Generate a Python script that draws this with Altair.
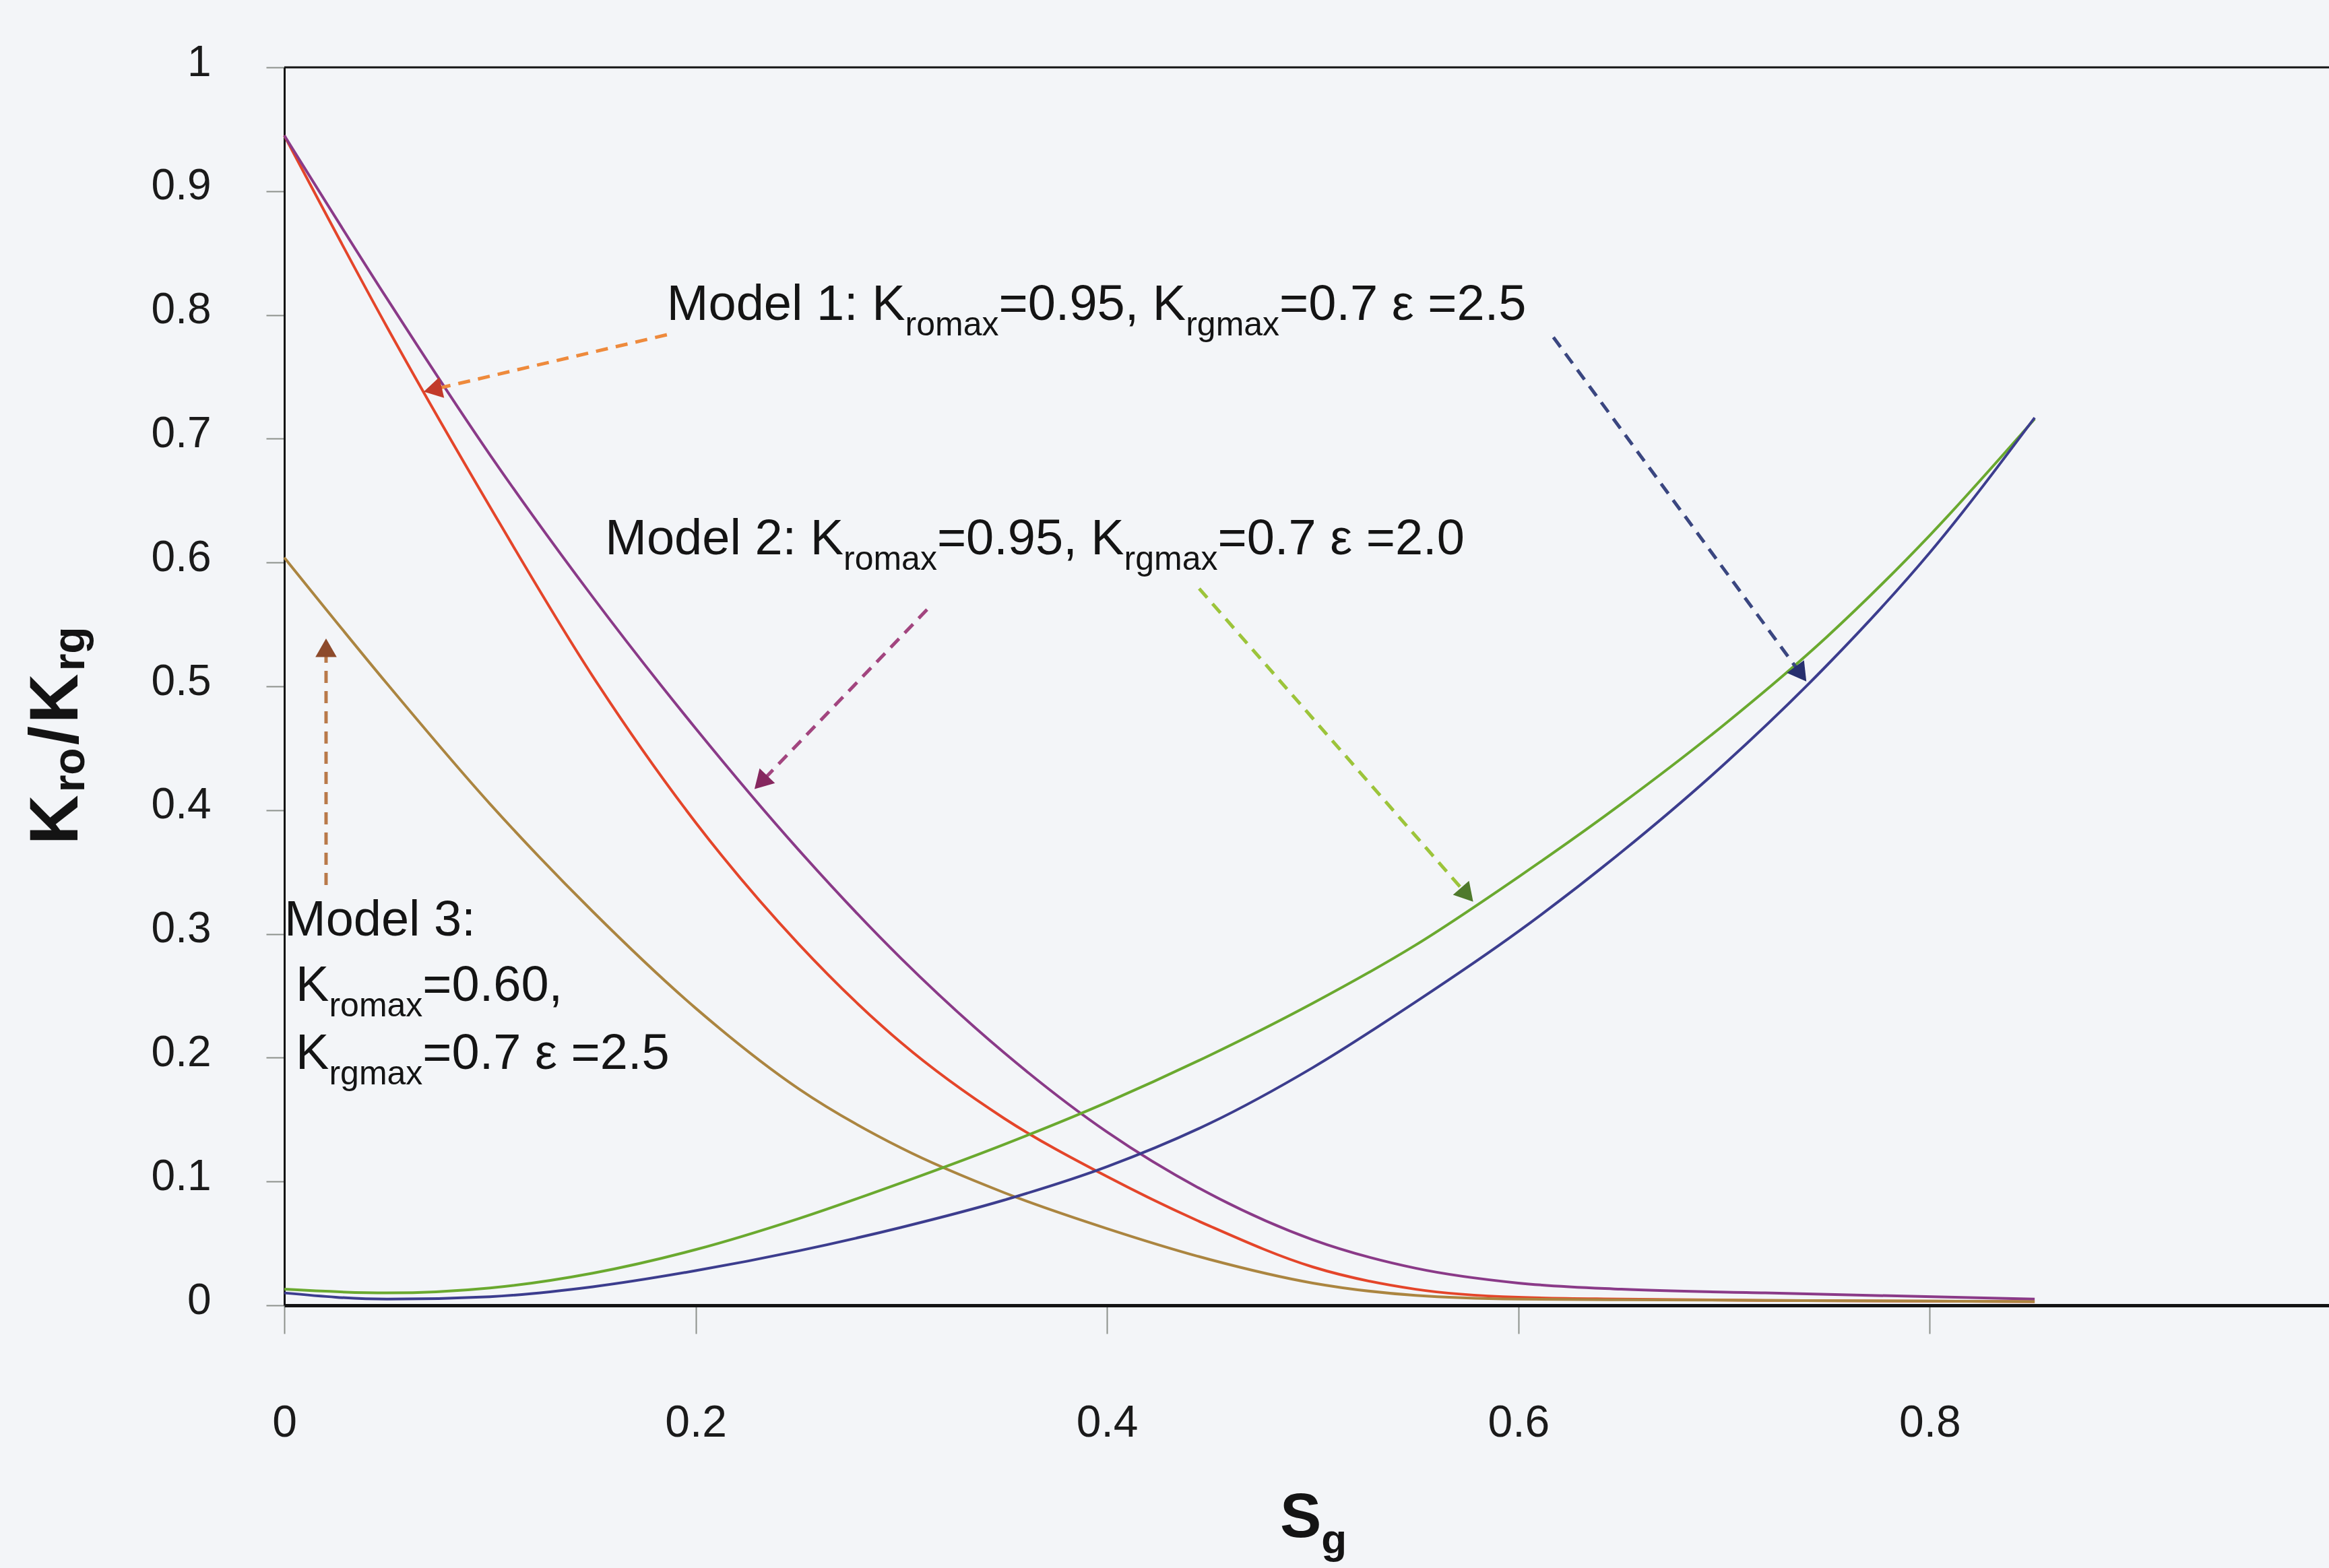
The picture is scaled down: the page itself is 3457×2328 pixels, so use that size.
import math
import altair as alt
import pandas as pd

# ---------------------------------------------------------------------------
# Relative permeability vs gas saturation (S_g) for three model settings
# ---------------------------------------------------------------------------
sg_grid = [0.0, 0.05, 0.10, 0.15, 0.20, 0.25, 0.30, 0.35, 0.40, 0.45, 0.50, 0.55, 0.60, 0.65, 0.72, 0.851]

# Oil relative permeability K_ro
m1_oil_kr = [0.945, 0.790, 0.645, 0.508, 0.390, 0.292, 0.212, 0.151, 0.104, 0.064, 0.031, 0.013, 0.0065,
             0.0050, 0.0040, 0.0030]
m2_oil_kr = [0.945, 0.813, 0.687, 0.572, 0.466, 0.368, 0.280, 0.204, 0.140, 0.090, 0.053, 0.030, 0.018,
             0.013, 0.010, 0.005]
m3_oil_kr = [0.604, 0.502, 0.405, 0.318, 0.240, 0.175, 0.127, 0.091, 0.062, 0.037, 0.018, 0.008, 0.005,
             0.0045, 0.0040, 0.0030]

# Gas relative permeability K_rg
gas_sg = [0.0, 0.05, 0.10, 0.15, 0.20, 0.25, 0.30, 0.35, 0.40, 0.45, 0.50, 0.55, 0.60, 0.65, 0.70, 0.75, 0.80, 0.851]
m2_gas_kr = [0.013, 0.010, 0.014, 0.026, 0.045, 0.070, 0.099, 0.130, 0.164, 0.202, 0.244, 0.291, 0.346, 0.405,
             0.469, 0.540, 0.622, 0.716]
m1_gas_kr = [0.010, 0.005, 0.007, 0.015, 0.028, 0.044, 0.063, 0.085, 0.112, 0.147, 0.192, 0.245, 0.302, 0.366,
             0.437, 0.517, 0.608, 0.717]

series_names = ["m1_oil", "m2_oil", "m3_oil", "m2_gas", "m1_gas"]
series_colors = ["#e4452a", "#8a3a88", "#ab8540", "#6aa92f", "#3c3d8e"]
series_sg = [sg_grid, sg_grid, sg_grid, gas_sg, gas_sg]
series_kr = [m1_oil_kr, m2_oil_kr, m3_oil_kr, m2_gas_kr, m1_gas_kr]

x_ticks = [0, 0.2, 0.4, 0.6, 0.8]
y_ticks = [round(0.1 * i, 1) for i in range(11)]

# Dashed callout arrows: (start S_g, start K, tip S_g, tip K, dash colour, head colour)
arrows = [
    (0.186, 0.784, 0.0678, 0.738, "#ee8a3c", "#c23a2a"),
    (0.617, 0.782, 0.740, 0.504, "#3a4680", "#262f6e"),
    (0.3125, 0.562, 0.2286, 0.417, "#a2457f", "#86275f"),
    (0.4448, 0.579, 0.578, 0.326, "#9cc43a", "#4f7a2c"),
    (0.0203, 0.3395, 0.0203, 0.5386, "#b9794a", "#8d4a2b"),
]

# Callout labels: list of (text, subscript?) runs with left start / baseline in data units
callouts = [
    ([("Model 1: K", False), ("romax", True), ("=0.95, K", False), ("rgmax", True), ("=0.7 \u03b5 =2.5", False)],
     0.186, 0.796),
    ([("Model 2: K", False), ("romax", True), ("=0.95, K", False), ("rgmax", True), ("=0.7 \u03b5 =2.0", False)],
     0.156, 0.6066),
    ([("Model 3:", False)], 0.0, 0.2987),
    ([("K", False), ("romax", True), ("=0.60,", False)], 0.0056, 0.2459),
    ([("K", False), ("rgmax", True), ("=0.7 \u03b5 =2.5", False)], 0.0056, 0.191),
]

# ---------------------------------------------------------------------------
# Layout
# ---------------------------------------------------------------------------
FONT = "Liberation Sans"
PAD_L, PAD_T, PAD_R, PAD_B = 422, 100, 0, 390
W, H = 3035, 1838
X_MAX = 0.9941
PX_X = W / X_MAX
PX_Y = H / 1.0

MAIN_FS, SUB_FS, SUB_DROP = 74, 50, 23

# Arial advance widths (1/1000 em), regular and bold
AW = {" ": 278, ",": 278, ".": 278, ":": 278, "=": 584, "/": 278, "K": 667, "M": 833, "S": 667,
      "o": 556, "d": 556, "e": 556, "l": 222, "r": 333, "m": 833, "a": 556, "x": 500, "g": 556,
      "\u03b5": 450}
AWB = {"K": 722, "S": 667, "/": 278, "r": 389, "o": 611, "g": 611}


def text_width(s, size, bold=False):
    table = AWB if bold else AW
    return sum(table.get(ch, 556) for ch in s) * size / 1000.0


# ---------------------------------------------------------------------------
# Tables
# ---------------------------------------------------------------------------
curve_rows = []
for name, col, xs_, ys_ in zip(series_names, series_colors, series_sg, series_kr):
    for i, (sx, ky) in enumerate(zip(xs_, ys_)):
        curve_rows.append({"series": name, "color": col, "order": i, "sg": sx, "kr": ky})
curves = pd.DataFrame(curve_rows)

shaft_rows, head_rows = [], []
HEAD_SIZE = 1000
head_h = math.sqrt(3) * (math.sqrt(HEAD_SIZE) / 2) / 2
for i, (x0, y0, x1, y1, c_dash, c_head) in enumerate(arrows):
    dxp = (x1 - x0) * PX_X
    dyp = -(y1 - y0) * PX_Y
    n = math.hypot(dxp, dyp)
    ux, uy = dxp / n, dyp / n
    ang = math.degrees(math.atan2(ux, -uy)) % 360
    cx = x1 - ux * head_h / PX_X
    cy = y1 + uy * head_h / PX_Y
    ex = x1 - ux * 1.6 * head_h / PX_X
    ey = y1 + uy * 1.6 * head_h / PX_Y
    shaft_rows.append({"a": i, "x": x0, "y": y0, "x2": ex, "y2": ey, "color": c_dash})
    head_rows.append({"a": i, "x": cx, "y": cy, "angle": ang, "color": c_head})
shafts = pd.DataFrame(shaft_rows)
heads = pd.DataFrame(head_rows)

label_rows = []
for runs, sx, sy in callouts:
    cur = sx
    for txt, is_sub in runs:
        fs = SUB_FS if is_sub else MAIN_FS
        label_rows.append({"x": cur, "y": sy - (SUB_DROP / PX_Y if is_sub else 0.0), "text": txt, "fs": fs})
        cur += text_width(txt, fs) / PX_X
labels = pd.DataFrame(label_rows)

# Y-axis title  K_ro / K_rg  (rotated, reading upwards)
YT_MAIN, YT_SUB = 102, 66
yt_runs = [("K", False), ("ro", True), ("/", False), ("K", False), ("rg", True)]
yt_rows = []
base_x = (115 - PAD_L) / PX_X
pos = (PAD_T + H - 1254) / PX_Y
for txt, is_sub in yt_runs:
    fs = YT_SUB if is_sub else YT_MAIN
    yt_rows.append({"x": base_x + (10 / PX_X if is_sub else 0.0), "y": pos, "text": txt, "fs": fs})
    pos += (text_width(txt, fs, bold=True) + 4) / PX_Y
ytitle = pd.DataFrame(yt_rows)

# X-axis title  S_g
xt_rows = [
    {"x": (1900 - PAD_L) / PX_X, "y": -(2282 - PAD_T - H) / PX_Y, "text": "S", "fs": 92},
    {"x": (1900 - PAD_L + text_width("S", 92, True)) / PX_X, "y": -(2306 - PAD_T - H) / PX_Y,
     "text": "g", "fs": 62},
]
xtitle = pd.DataFrame(xt_rows)

frame = pd.DataFrame({"x": [0.0], "x2": [X_MAX], "y": [1.0]})
cut_label = pd.DataFrame({"x": [1.0], "y": [-(2112 - PAD_T - H) / PX_Y], "text": ["1"]})

# ---------------------------------------------------------------------------
# Chart
# ---------------------------------------------------------------------------
xs = alt.Scale(domain=[0, X_MAX], nice=False, zero=False)
ys = alt.Scale(domain=[0, 1], nice=False, zero=False)

x_axis = alt.Axis(values=x_ticks, format=".1~f", title=None, grid=False,
                  tickSize=42, tickWidth=2, tickColor="#8c918c",
                  domainColor="#141414", domainWidth=5,
                  labelFont=FONT, labelFontSize=66, labelColor="#1a1a1a",
                  labelPadding=132, labelBaseline="middle", labelFlush=False)
y_axis = alt.Axis(values=y_ticks, format=".1~f", title=None, grid=False,
                  tickSize=27, tickWidth=2, tickColor="#8c918c",
                  domainColor="#141414", domainWidth=3,
                  labelFont=FONT, labelFontSize=64, labelColor="#1a1a1a",
                  labelPadding=82, labelOffset=-7, labelFlush=False)

lines = alt.Chart(curves).mark_line(strokeWidth=4, interpolate="monotone").encode(
    x=alt.X("sg:Q", scale=xs, axis=x_axis),
    y=alt.Y("kr:Q", scale=ys, axis=y_axis),
    color=alt.Color("color:N", scale=None),
    detail="series:N",
    order="order:Q",
)

top_border = alt.Chart(frame).mark_rule(color="#141414", strokeWidth=3).encode(
    x=alt.X("x:Q", scale=xs), x2="x2:Q", y=alt.Y("y:Q", scale=ys)
)

shaft_layer = alt.Chart(shafts).mark_rule(strokeWidth=5, strokeDash=[18, 12]).encode(
    x=alt.X("x:Q", scale=xs), y=alt.Y("y:Q", scale=ys), x2="x2:Q", y2="y2:Q",
    color=alt.Color("color:N", scale=None),
)

head_layer = alt.Chart(heads).mark_point(shape="triangle-up", filled=True, size=HEAD_SIZE, opacity=1).encode(
    x=alt.X("x:Q", scale=xs), y=alt.Y("y:Q", scale=ys),
    angle=alt.Angle("angle:Q", scale=None),
    color=alt.Color("color:N", scale=None),
)

label_layer = alt.Chart(labels).mark_text(
    font=FONT, align="left", baseline="alphabetic", color="#141414"
).encode(
    x=alt.X("x:Q", scale=xs), y=alt.Y("y:Q", scale=ys), text="text:N",
    size=alt.Size("fs:Q", scale=None),
)

ytitle_layer = alt.Chart(ytitle).mark_text(
    font=FONT, fontWeight="bold", align="left", baseline="alphabetic", angle=270, color="#141414"
).encode(
    x=alt.X("x:Q", scale=xs), y=alt.Y("y:Q", scale=ys), text="text:N",
    size=alt.Size("fs:Q", scale=None),
)

xtitle_layer = alt.Chart(xtitle).mark_text(
    font=FONT, fontWeight="bold", align="left", baseline="alphabetic", color="#141414"
).encode(
    x=alt.X("x:Q", scale=xs), y=alt.Y("y:Q", scale=ys), text="text:N",
    size=alt.Size("fs:Q", scale=None),
)

cut_layer = alt.Chart(cut_label).mark_text(
    font=FONT, fontSize=66, align="center", baseline="middle", color="#1a1a1a"
).encode(
    x=alt.X("x:Q", scale=xs), y=alt.Y("y:Q", scale=ys), text="text:N"
)

chart = alt.layer(
    lines, top_border, shaft_layer, head_layer, label_layer, ytitle_layer, xtitle_layer, cut_layer
).properties(
    width=W,
    height=H,
    autosize=alt.AutoSizeParams(type="none"),
    padding={"left": PAD_L, "top": PAD_T, "right": PAD_R, "bottom": PAD_B},
    background="#f3f5f8",
).configure_view(stroke=None)

chart.save("out.html", embed_options={"renderer": "svg", "actions": False})
